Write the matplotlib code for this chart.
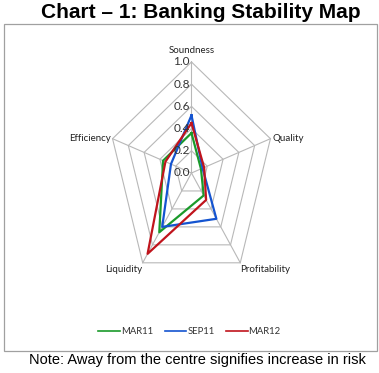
import numpy as np
import matplotlib
matplotlib.use('Agg')
from matplotlib import pyplot as plt
from matplotlib.patches import Rectangle
from matplotlib.lines import Line2D

# data
categories = ['Soundness', 'Quality', 'Profitability', 'Liquidity', 'Efficiency']
mar11 = [0.36, 0.12, 0.25, 0.66, 0.36]
sep11 = [0.52, 0.14, 0.51, 0.60, 0.26]
mar12 = [0.45, 0.16, 0.30, 0.90, 0.33]
series_names = ['MAR11', 'SEP11', 'MAR12']
series_colors = ['#1a9a2a', '#1454d0', '#c0141c']
ring_levels = [0.2, 0.4, 0.6, 0.8, 1.0]
tick_labels = ['0.0', '0.2', '0.4', '0.6', '0.8', '1.0']

n = len(categories)
angles = np.arange(n) * 2 * np.pi / n


def to_xy(values):
    values = np.asarray(values + values[:1], dtype=float)
    ang = np.append(angles, angles[0])
    return values * np.sin(ang), values * np.cos(ang)


fig = plt.figure(figsize=(3.79, 3.73), dpi=100)
ax = fig.add_axes([0.2315, 0.1642, 0.5475, 0.744])
ax.set_xlim(-1.25, 1.25)
ax.set_ylim(-1.25, 1.25)
ax.axis('off')

grid_color = '#b8b8b8'
for level in ring_levels:
    gx, gy = to_xy([level] * n)
    ax.plot(gx, gy, color=grid_color, lw=0.8, zorder=1)
for a in angles:
    ax.plot([0, np.sin(a)], [0, np.cos(a)], color=grid_color, lw=0.8, zorder=1)

for values, name, color in zip([mar11, sep11, mar12], series_names, series_colors):
    x, y = to_xy(values)
    ax.plot(x, y, color=color, lw=1.6, zorder=3)

# radial tick labels
for i, lab in enumerate(tick_labels):
    ax.text(-0.02, i * 0.2, lab, ha='right', va='center', fontsize=8.5,
            family='Lato', color='#333333', zorder=4)

# category labels
label_font = dict(fontsize=7, family='Lato', color='#222222')
ax.text(0, 1.06, categories[0], ha='center', va='bottom', **label_font)
ax.text(np.sin(angles[1]) + 0.02, np.cos(angles[1]), categories[1],
        ha='left', va='center', **label_font)
ax.text(np.sin(angles[2]), np.cos(angles[2]) - 0.02, categories[2],
        ha='left', va='top', **label_font)
ax.text(np.sin(angles[3]), np.cos(angles[3]) - 0.02, categories[3],
        ha='right', va='top', **label_font)
ax.text(np.sin(angles[4]) - 0.02, np.cos(angles[4]), categories[4],
        ha='right', va='center', **label_font)

# outer frame
fig.patches.append(Rectangle((4 / 379, 1 - 351 / 373), 373 / 379, 327 / 373,
                             transform=fig.transFigure, fill=False,
                             edgecolor='#a0a0a0', lw=0.9))

handles = [Line2D([], [], color=c, lw=1.2) for c in series_colors]
fig.legend(handles, series_names, loc='center', bbox_to_anchor=(0.5, 1 - 332 / 373),
           ncol=3, frameon=False, handlelength=2.3, handletextpad=0.1,
           columnspacing=1.2, prop={'family': 'Lato', 'size': 6.8},
           labelcolor='#333333')

fig.text(0.53, 1 - 12 / 373, 'Chart \u2013 1: Banking Stability Map', ha='center',
         va='center', fontsize=15, fontweight='bold', family='Liberation Sans')
fig.text(0.521, 1 - 360 / 373, 'Note: Away from the centre signifies increase in risk',
         ha='center', va='center', fontsize=10.5, family='Liberation Sans')

fig.savefig('out.png', dpi=100)
